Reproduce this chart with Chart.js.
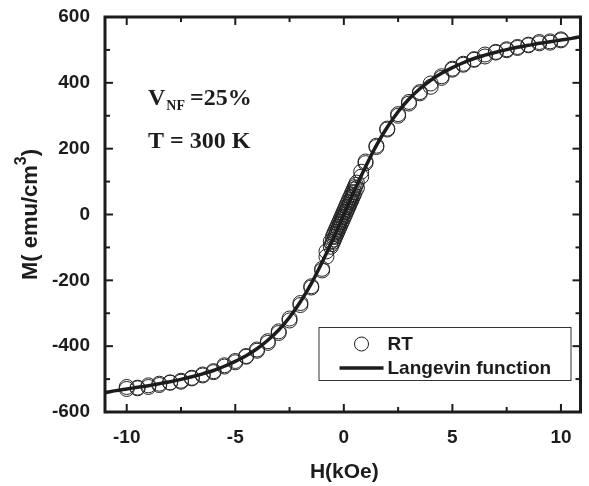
<!DOCTYPE html>
<html>
<head>
<meta charset="utf-8">
<script src="https://cdn.jsdelivr.net/npm/chart.js@4/dist/chart.umd.min.js"></script>
<style>
  html, body { margin: 0; padding: 0; background: #fff; }
  #wrap { position: relative; width: 589px; height: 486px; }
</style>
</head>
<body>
<div id="wrap"><canvas id="c" width="589" height="486"></canvas></div>
<script>
// ---- data ----
// descending field sweep (10 -> -10 kOe)
const hDown = [10, 9.5, 9, 8.5, 8, 7.5, 7, 6.5, 6, 5.5, 5, 4.5, 4, 3.5, 3, 2.5, 2, 1.5, 1,
  0.8, 0.6,
  0.55, 0.5, 0.45, 0.4, 0.35, 0.3, 0.25, 0.2, 0.15, 0.1, 0.05, 0, -0.05, -0.1, -0.15, -0.2, -0.25, -0.3, -0.35, -0.4, -0.45, -0.5,
  -0.6, -0.8,
  -1, -1.5, -2, -2.5, -3, -3.5, -4, -4.5, -5, -5.5, -6, -6.5, -7, -7.5, -8, -8.5, -9, -9.5, -10];
const mDown = [529, 522, 524, 516, 509, 499, 492, 486, 472, 458, 443, 415, 388, 368, 337, 300, 261, 209, 161,
  130, 97,
  90, 83, 76, 68, 61, 53, 46, 38, 31, 23, 16, 8, 1, -7, -14, -22, -29, -37, -44, -52, -59, -67,
  -82, -112,
  -165, -218, -269, -316, -355, -385, -410, -430, -445, -458, -476, -486, -496, -508, -511, -514, -519, -528, -524];
// ascending field sweep (-10 -> 10 kOe)
const hUp = [-10, -9.5, -9, -8.5, -8, -7.5, -7, -6.5, -6, -5.5, -5, -4.5, -4, -3.5, -3, -2.5, -2, -1.5, -1,
  -0.8, -0.6,
  -0.55, -0.5, -0.45, -0.4, -0.35, -0.3, -0.25, -0.2, -0.15, -0.1, -0.05, 0, 0.05, 0.1, 0.15, 0.2, 0.25, 0.3, 0.35, 0.4, 0.45, 0.5,
  0.6, 0.8,
  1, 1.5, 2, 2.5, 3, 3.5, 4, 4.5, 5, 5.5, 6, 6.5, 7, 7.5, 8, 8.5, 9, 9.5, 10];
const mUp = [-530, -526, -524, -518, -510, -505, -498, -489, -479, -462, -449, -432, -414, -390, -360, -322, -275, -222, -170,
  -128, -98,
  -90, -83, -76, -68, -61, -53, -46, -38, -31, -23, -16, -8, -1, 7, 14, 22, 29, 37, 44, 52, 59, 67,
  80, 115,
  156, 205, 258, 305, 342, 372, 398, 420, 440, 455, 470, 480, 494, 502, 506, 514, 520, 526, 532];
// Langevin fit curve
const hFit = [-11, -10.5, -10, -9.5, -9, -8.5, -8, -7.5, -7, -6.5, -6, -5.5, -5, -4.5, -4, -3.5, -3, -2.5, -2, -1.5, -1, -0.5,
  0, 0.5, 1, 1.5, 2, 2.5, 3, 3.5, 4, 4.5, 5, 5.5, 6, 6.5, 7, 7.5, 8, 8.5, 9, 9.5, 10, 10.5, 11];
const mFit = [-541, -535, -530, -525, -520, -514, -508, -501, -493, -484, -474, -461, -446, -429, -408, -382, -351, -312, -265, -210, -145, -75,
  0, 75, 145, 210, 265, 312, 351, 382, 408, 429, 446, 461, 474, 484, 493, 501, 508, 514, 520, 525, 530, 535, 541];

const xTickValues = [-10, -5, 0, 5, 10];
const xMinorTicks = [-7.5, -2.5, 2.5, 7.5];
const yTickValues = [-600, -400, -200, 0, 200, 400, 600];
const yMinorTicks = [-500, -300, -100, 100, 300, 500];

const seriesLabels = ['RT', 'Langevin function'];
const xTitle = 'H(kOe)';
const yTitleMain = 'M( emu/cm';
const yTitleSup = '3';
const yTitleEnd = ')';

// ---- chart ----
const INK = '#1c1c1c';
const SANS = '"Liberation Sans", Arial, Helvetica, sans-serif';
const SERIF = '"Liberation Serif", "Times New Roman", serif';

const pts = [];
hDown.forEach((h, i) => pts.push({x: h, y: mDown[i]}));
hUp.forEach((h, i) => pts.push({x: h, y: mUp[i]}));
const fit = hFit.map((h, i) => ({x: h, y: mFit[i]}));

const decor = {
  id: 'decor',
  afterDatasetsDraw(chart) {
    const {ctx, chartArea: a, scales: {x, y}} = chart;
    ctx.save();
    const seg = (x1, y1, x2, y2) => { ctx.beginPath(); ctx.moveTo(x1, y1); ctx.lineTo(x2, y2); ctx.stroke(); };
    ctx.strokeStyle = INK;
    ctx.lineWidth = 2;
    const xt = (v, len) => { const p = x.getPixelForValue(v); seg(p, a.bottom, p, a.bottom - len); seg(p, a.top, p, a.top + len); };
    const yt = (v, len) => { const p = y.getPixelForValue(v); seg(a.left, p, a.left + len, p); seg(a.right, p, a.right - len, p); };
    xTickValues.forEach(v => xt(v, 8));
    xMinorTicks.forEach(v => xt(v, 5));
    yTickValues.forEach(v => yt(v, 8));
    yMinorTicks.forEach(v => yt(v, 5));
    // frame
    ctx.lineWidth = 3;
    ctx.strokeRect(a.left, a.top, a.right - a.left, a.bottom - a.top);

    // legend
    const lx = a.right - 262, ly = a.bottom - 85, lw = 252, lh = 53;
    ctx.lineWidth = 1;
    ctx.strokeStyle = '#333';
    ctx.strokeRect(lx + 0.5, ly + 0.5, lw, lh);
    ctx.strokeStyle = INK;
    ctx.beginPath(); ctx.arc(lx + 43, ly + 17, 7, 0, Math.PI * 2); ctx.stroke();
    ctx.lineWidth = 3.5;
    seg(lx + 21, ly + 41, lx + 65, ly + 41);
    ctx.fillStyle = INK;
    ctx.font = 'bold 19px ' + SANS;
    ctx.textBaseline = 'middle';
    ctx.textAlign = 'left';
    ctx.fillText(seriesLabels[0], lx + 69, ly + 18);
    ctx.fillText(seriesLabels[1], lx + 69, ly + 42);

    // annotations
    ctx.textBaseline = 'alphabetic';
    ctx.font = 'bold 24px ' + SERIF;
    ctx.fillText('V', 148, 105);
    let w = ctx.measureText('V').width;
    ctx.font = 'bold 14px ' + SERIF;
    ctx.fillText('NF', 148 + w + 1, 110);
    const w2 = ctx.measureText('NF').width;
    ctx.font = 'bold 24px ' + SERIF;
    ctx.fillText(' =25%', 148 + w + w2, 105);
    ctx.fillText('T = 300 K', 148, 148);

    // x title
    ctx.font = 'bold 21px ' + SANS;
    ctx.textAlign = 'center';
    ctx.fillText(xTitle, x.getPixelForValue(0) + 0.5, 478);

    // y title (rotated, with superscript)
    ctx.translate(37, y.getPixelForValue(0));
    ctx.rotate(-Math.PI / 2);
    ctx.textAlign = 'left';
    ctx.font = 'bold 22px ' + SANS;
    const wMain = ctx.measureText(yTitleMain).width;
    const wEnd = ctx.measureText(yTitleEnd).width;
    ctx.font = 'bold 16px ' + SANS;
    const wSup = ctx.measureText(yTitleSup).width;
    const total = wMain + wSup + wEnd;
    let cx = -total / 2;
    ctx.font = 'bold 22px ' + SANS;
    ctx.fillText(yTitleMain, cx, 0);
    cx += wMain;
    ctx.font = 'bold 16px ' + SANS;
    ctx.fillText(yTitleSup, cx, -11);
    cx += wSup;
    ctx.font = 'bold 22px ' + SANS;
    ctx.fillText(yTitleEnd, cx, 0);
    ctx.restore();
  }
};

new Chart(document.getElementById('c'), {
  type: 'scatter',
  data: {
    datasets: [
      {
        label: seriesLabels[1],
        data: fit,
        showLine: true,
        borderColor: INK,
        borderWidth: 3.5,
        pointRadius: 0,
        cubicInterpolationMode: 'monotone',
        clip: 0,
        order: 0
      },
      {
        label: seriesLabels[0],
        data: pts,
        showLine: false,
        pointStyle: 'circle',
        pointRadius: 7.5,
        borderWidth: 1,
        borderColor: '#222',
        backgroundColor: 'rgba(0,0,0,0)',
        order: 1
      }
    ]
  },
  options: {
    responsive: false,
    animation: false,
    layout: { padding: { top: 17, right: 1, left: 0, bottom: 0 } },
    plugins: { legend: { display: false }, tooltip: { enabled: false } },
    scales: {
      x: {
        type: 'linear',
        min: -11,
        max: 10.9,
        afterBuildTicks: s => { s.ticks = xTickValues.map(v => ({value: v})); },
        afterFit: s => { s.height = 74; s.paddingLeft = 0; s.paddingRight = 0; },
        grid: { display: false, drawTicks: false },
        border: { display: false },
        ticks: {
          color: INK,
          font: { family: SANS, size: 19, weight: 'bold' },
          padding: 14,
          maxRotation: 0,
          autoSkip: false
        }
      },
      y: {
        type: 'linear',
        min: -600,
        max: 600,
        afterBuildTicks: s => { s.ticks = yTickValues.map(v => ({value: v})); },
        afterFit: s => { s.width = 105; s.paddingTop = 0; s.paddingBottom = 0; },
        grid: { display: false, drawTicks: false },
        border: { display: false },
        ticks: {
          color: INK,
          font: { family: SANS, size: 19, weight: 'bold' },
          padding: 15,
          autoSkip: false
        }
      }
    }
  },
  plugins: [decor]
});
</script>
</body>
</html>
